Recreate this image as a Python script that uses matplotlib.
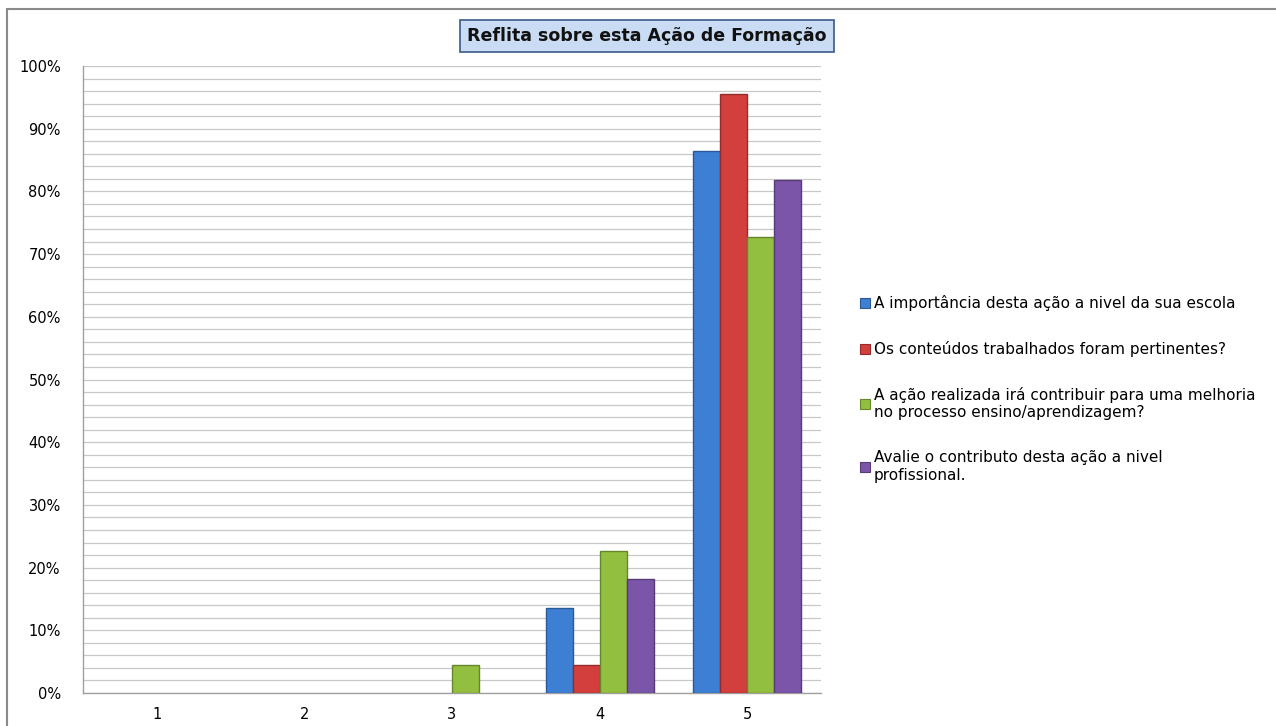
import matplotlib
matplotlib.use("Agg")
import matplotlib.pyplot as plt
import numpy as np
from matplotlib.patches import Rectangle, Patch

categories = ["1", "2", "3", "4", "5"]
series_names = [
    "A importância desta ação a nivel da sua escola",
    "Os conteúdos trabalhados foram pertinentes?",
    "A ação realizada irá contribuir para uma melhoria\nno processo ensino/aprendizagem?",
    "Avalie o contributo desta ação a nivel\nprofissional.",
]
importancia = [0.0, 0.0, 0.0, 0.136, 0.864]
conteudos = [0.0, 0.0, 0.0, 0.045, 0.955]
melhoria = [0.0, 0.0, 0.045, 0.227, 0.727]
contributo = [0.0, 0.0, 0.0, 0.182, 0.818]
series_values = [importancia, conteudos, melhoria, contributo]
ytick_labels = ["0%", "10%", "20%", "30%", "40%", "50%", "60%", "70%", "80%", "90%", "100%"]

colors = ["#3d7fd3", "#d23f3d", "#92bf40", "#7b55a8"]
edges = ["#2a5a96", "#952b2a", "#65862b", "#563b77"]

fig = plt.figure(figsize=(12.76, 7.26), dpi=100)
ax = fig.add_axes([83/1276, 33/726, (821-83)/1276, (693-66)/726])

x = np.arange(len(categories))
w = 0.183
for i, vals in enumerate(series_values):
    vals = np.asarray(vals)
    lw = np.where(vals > 0, 1.0, 0.0)
    ax.bar(x + (i - 1.5) * w, vals, width=w, color=colors[i], edgecolor=edges[i],
           linewidth=lw, label=series_names[i], zorder=3)

ax.set_xlim(-0.5, len(categories) - 0.5)
ax.set_ylim(0, 1.0)
ax.set_xticks(x)
ax.set_xticklabels(categories, fontsize=10.5)
ax.set_yticks(np.linspace(0, 1, 11))
ax.set_yticklabels(ytick_labels, fontsize=10.5)
ax.set_yticks(np.arange(0, 1.001, 0.02), minor=True)
ax.tick_params(axis="both", which="both", length=0)
ax.tick_params(axis="y", pad=16)
ax.tick_params(axis="x", pad=10)
ax.grid(True, axis="y", which="both", color="#c8c8c8", linewidth=0.9, zorder=0)
for s in ["top", "right"]:
    ax.spines[s].set_visible(False)
for s in ["left", "bottom"]:
    ax.spines[s].set_color("#a0a0a0")
    ax.spines[s].set_linewidth(1.0)

handles = [Patch(facecolor=colors[i], edgecolor=edges[i], linewidth=0.8) for i in range(4)]
leg = fig.legend(handles, series_names, loc="center left",
                 bbox_to_anchor=(846/1276, (726-389)/726), frameon=False,
                 fontsize=11, handlelength=0.65, handleheight=0.65, handletextpad=0.25,
                 labelspacing=1.95)

# Title box
fig.text(647/1276, (726-36)/726, "Reflita sobre esta Ação de Formação",
         ha="center", va="center", fontsize=12.5, fontweight="bold", color="#111111",
         bbox=dict(boxstyle="square,pad=0.4", facecolor="#c9dcf3", edgecolor="#3b5a86",
                   linewidth=1.2))

# Outer frame
fig.patches.append(Rectangle((7/1276, -0.05), 1.1, (726-9)/726 + 0.05,
                             transform=fig.transFigure, fill=False,
                             edgecolor="#8a8a8a", linewidth=1.5))

fig.savefig("out.png", dpi=100)
